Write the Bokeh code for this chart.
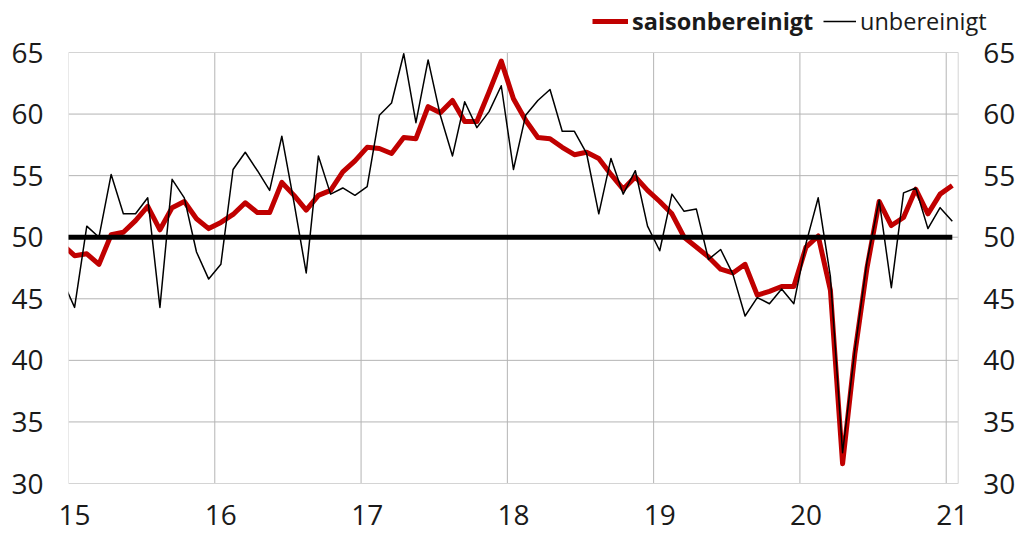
from bokeh.plotting import figure
from bokeh.models import Range1d, Legend, LegendItem, FixedTicker, CustomJSTickFormatter
from bokeh.core.properties import value
from bokeh.embed import file_html
from bokeh.resources import INLINE

# Monthly series, first value = December 2014, last = January 2021
start_year = 2014
start_month = 12

saisonbereinigt = [
    49.4, 48.5, 48.65, 47.8, 50.2, 50.4, 51.35, 52.5, 50.6, 52.4, 52.9, 51.5, 50.7,
    51.2, 51.85, 52.8, 52.0, 52.0, 54.45, 53.4, 52.2, 53.4, 53.8, 55.3, 56.2,
    57.3, 57.2, 56.8, 58.1, 58.0, 60.6, 60.1, 61.1, 59.4, 59.4, 61.8, 64.3,
    61.25, 59.5, 58.1, 58.0, 57.3, 56.7, 56.9, 56.4, 55.1, 53.9, 54.9, 53.8,
    52.9, 51.9, 50.0, 49.2, 48.4, 47.4, 47.1, 47.8, 45.3, 45.6, 46.0, 46.0,
    49.2, 50.1, 45.7, 31.6, 40.5, 47.5, 52.9, 50.95, 51.6, 53.9, 51.9, 53.5,
    54.2,
]

unbereinigt = [
    46.5, 44.3, 50.9, 50.0, 55.1, 51.9, 51.9, 53.2, 44.3, 54.7, 53.2, 48.8, 46.6,
    47.8, 55.5, 56.9, 55.4, 53.8, 58.2, 52.8, 47.1, 56.6, 53.5, 54.0, 53.4,
    54.1, 59.9, 60.9, 64.9, 59.3, 64.4, 59.9, 56.6, 61.0, 58.9, 60.2, 62.3,
    55.5, 59.9, 61.1, 62.0, 58.6, 58.6, 56.8, 51.9, 56.4, 53.5, 55.4, 50.9,
    48.9, 53.5, 52.1, 52.3, 48.2, 49.0, 47.0, 43.6, 45.1, 44.6, 45.8, 44.6,
    49.5, 53.2, 46.8, 32.5, 40.8, 48.0, 53.0, 45.9, 53.6, 54.0, 50.7, 52.4,
    51.3,
]

threshold = 50
year_ticks = [15, 16, 17, 18, 19, 20, 21]
value_ticks = [30, 35, 40, 45, 50, 55, 60, 65]
value_labels = [str(v) for v in value_ticks]

n = len(saisonbereinigt)
# mid-month position on a "two-digit year" axis
x = [(start_year - 2000) + (start_month - 1 + k + 0.5) / 12 for k in range(n)]
# year labels sit under the January point of each year
year_label_pos = [yr + 0.5 / 12 for yr in year_ticks]

FONT = "Open Sans"
W, H = 1019, 534
LEFT, BOTTOM = 68, 36
PLOT_W_PX = 889.7          # width of the gridded area
PLOT_TOP_PX = 52           # pixel row of the top value
PLOT_BOTTOM_PX = 483       # pixel row of the bottom value
x_lo, x_hi = year_ticks[0], year_ticks[-1] + 0.082
y_lo, y_hi = value_ticks[0], value_ticks[-1]

frame_w = W - LEFT
frame_h = H - BOTTOM
px_per_x = PLOT_W_PX / (x_hi - x_lo)
px_per_y = (PLOT_BOTTOM_PX - PLOT_TOP_PX) / (y_hi - y_lo)
x_view_end = x_lo + frame_w / px_per_x                          # room for right labels
y_view_end = y_hi + PLOT_TOP_PX / px_per_y                      # room for the legend
y_view_start = y_lo - (frame_h - PLOT_BOTTOM_PX) / px_per_y     # room for lowest label

p = figure(width=W, height=H, output_backend="svg", toolbar_location=None,
           x_range=Range1d(x_lo, x_view_end), y_range=Range1d(y_view_start, y_view_end),
           min_border_left=LEFT, min_border_right=0, min_border_top=0,
           min_border_bottom=BOTTOM)

p.background_fill_color = "white"
p.border_fill_color = "white"
p.outline_line_color = None
p.xgrid.visible = False
p.ygrid.visible = False

for ax in [p.xaxis[0], p.yaxis[0]]:
    ax.axis_line_color = None
    ax.major_tick_line_color = None
    ax.minor_tick_line_color = None
    ax.major_tick_out = 0
    ax.major_tick_in = 0
    ax.minor_tick_out = 0
    ax.minor_tick_in = 0
    ax.major_label_text_font = FONT
    ax.major_label_text_font_size = "28px"
    ax.major_label_text_color = "#1a1a1a"

p.xaxis[0].ticker = FixedTicker(ticks=year_label_pos)
p.xaxis[0].formatter = CustomJSTickFormatter(code="return String(Math.floor(tick));")
p.yaxis[0].ticker = FixedTicker(ticks=value_ticks)
p.yaxis[0].major_label_standoff = 25
p.xaxis[0].major_label_standoff = 6

GRID = "#b4b4b4"
EDGE = "#d4d4d4"
inner_years = year_ticks[1:]
inner_vals = value_ticks[1:-1]
# vertical grid lines (years)
p.segment(x0=inner_years, y0=[y_lo] * len(inner_years), x1=inner_years,
          y1=[y_hi] * len(inner_years), line_color=GRID, line_width=1)
# horizontal grid lines (values)
p.segment(x0=[x_lo] * len(inner_vals), y0=inner_vals, x1=[x_hi] * len(inner_vals),
          y1=inner_vals, line_color=GRID, line_width=1)
# border of the gridded area
p.segment(x0=[x_lo, x_hi, x_lo, x_lo], y0=[y_lo, y_lo, y_lo, y_hi],
          x1=[x_lo, x_hi, x_hi, x_hi], y1=[y_hi, y_hi, y_lo, y_hi],
          line_color=EDGE, line_width=1)

# right-hand value labels
p.text(x=[x_hi] * len(value_ticks), y=value_ticks, text=value_labels,
       x_offset=25, text_align="left", text_baseline="middle",
       text_font=value(FONT), text_font_size="28px", text_color="#1a1a1a")

r_red = p.line(x, saisonbereinigt, line_color="#c00000", line_width=5, line_join="round")
p.line(x, [threshold] * n, line_color="black", line_width=5)
r_black = p.line(x, unbereinigt, line_color="black", line_width=1.5, line_join="round")


def make_legend(item, loc, style, gw):
    return Legend(items=[item], location=loc, orientation="horizontal",
                  border_line_color=None, background_fill_alpha=0,
                  padding=0, margin=0, spacing=0,
                  glyph_width=gw, glyph_height=20, label_standoff=4,
                  label_text_font=FONT, label_text_font_size="23.5px",
                  label_text_font_style=style, label_text_color="#1a1a1a")


# legend positions are measured from the bottom-left corner of the drawing area
leg_y = frame_h - 37
leg1 = make_legend(LegendItem(label="saisonbereinigt", renderers=[r_red]), (524, leg_y), "bold", 36)
leg2 = make_legend(LegendItem(label="unbereinigt", renderers=[r_black]), (755, leg_y), "normal", 33)
p.add_layout(leg1)
p.add_layout(leg2)

open("out.html", "w").write(file_html(p, INLINE))
